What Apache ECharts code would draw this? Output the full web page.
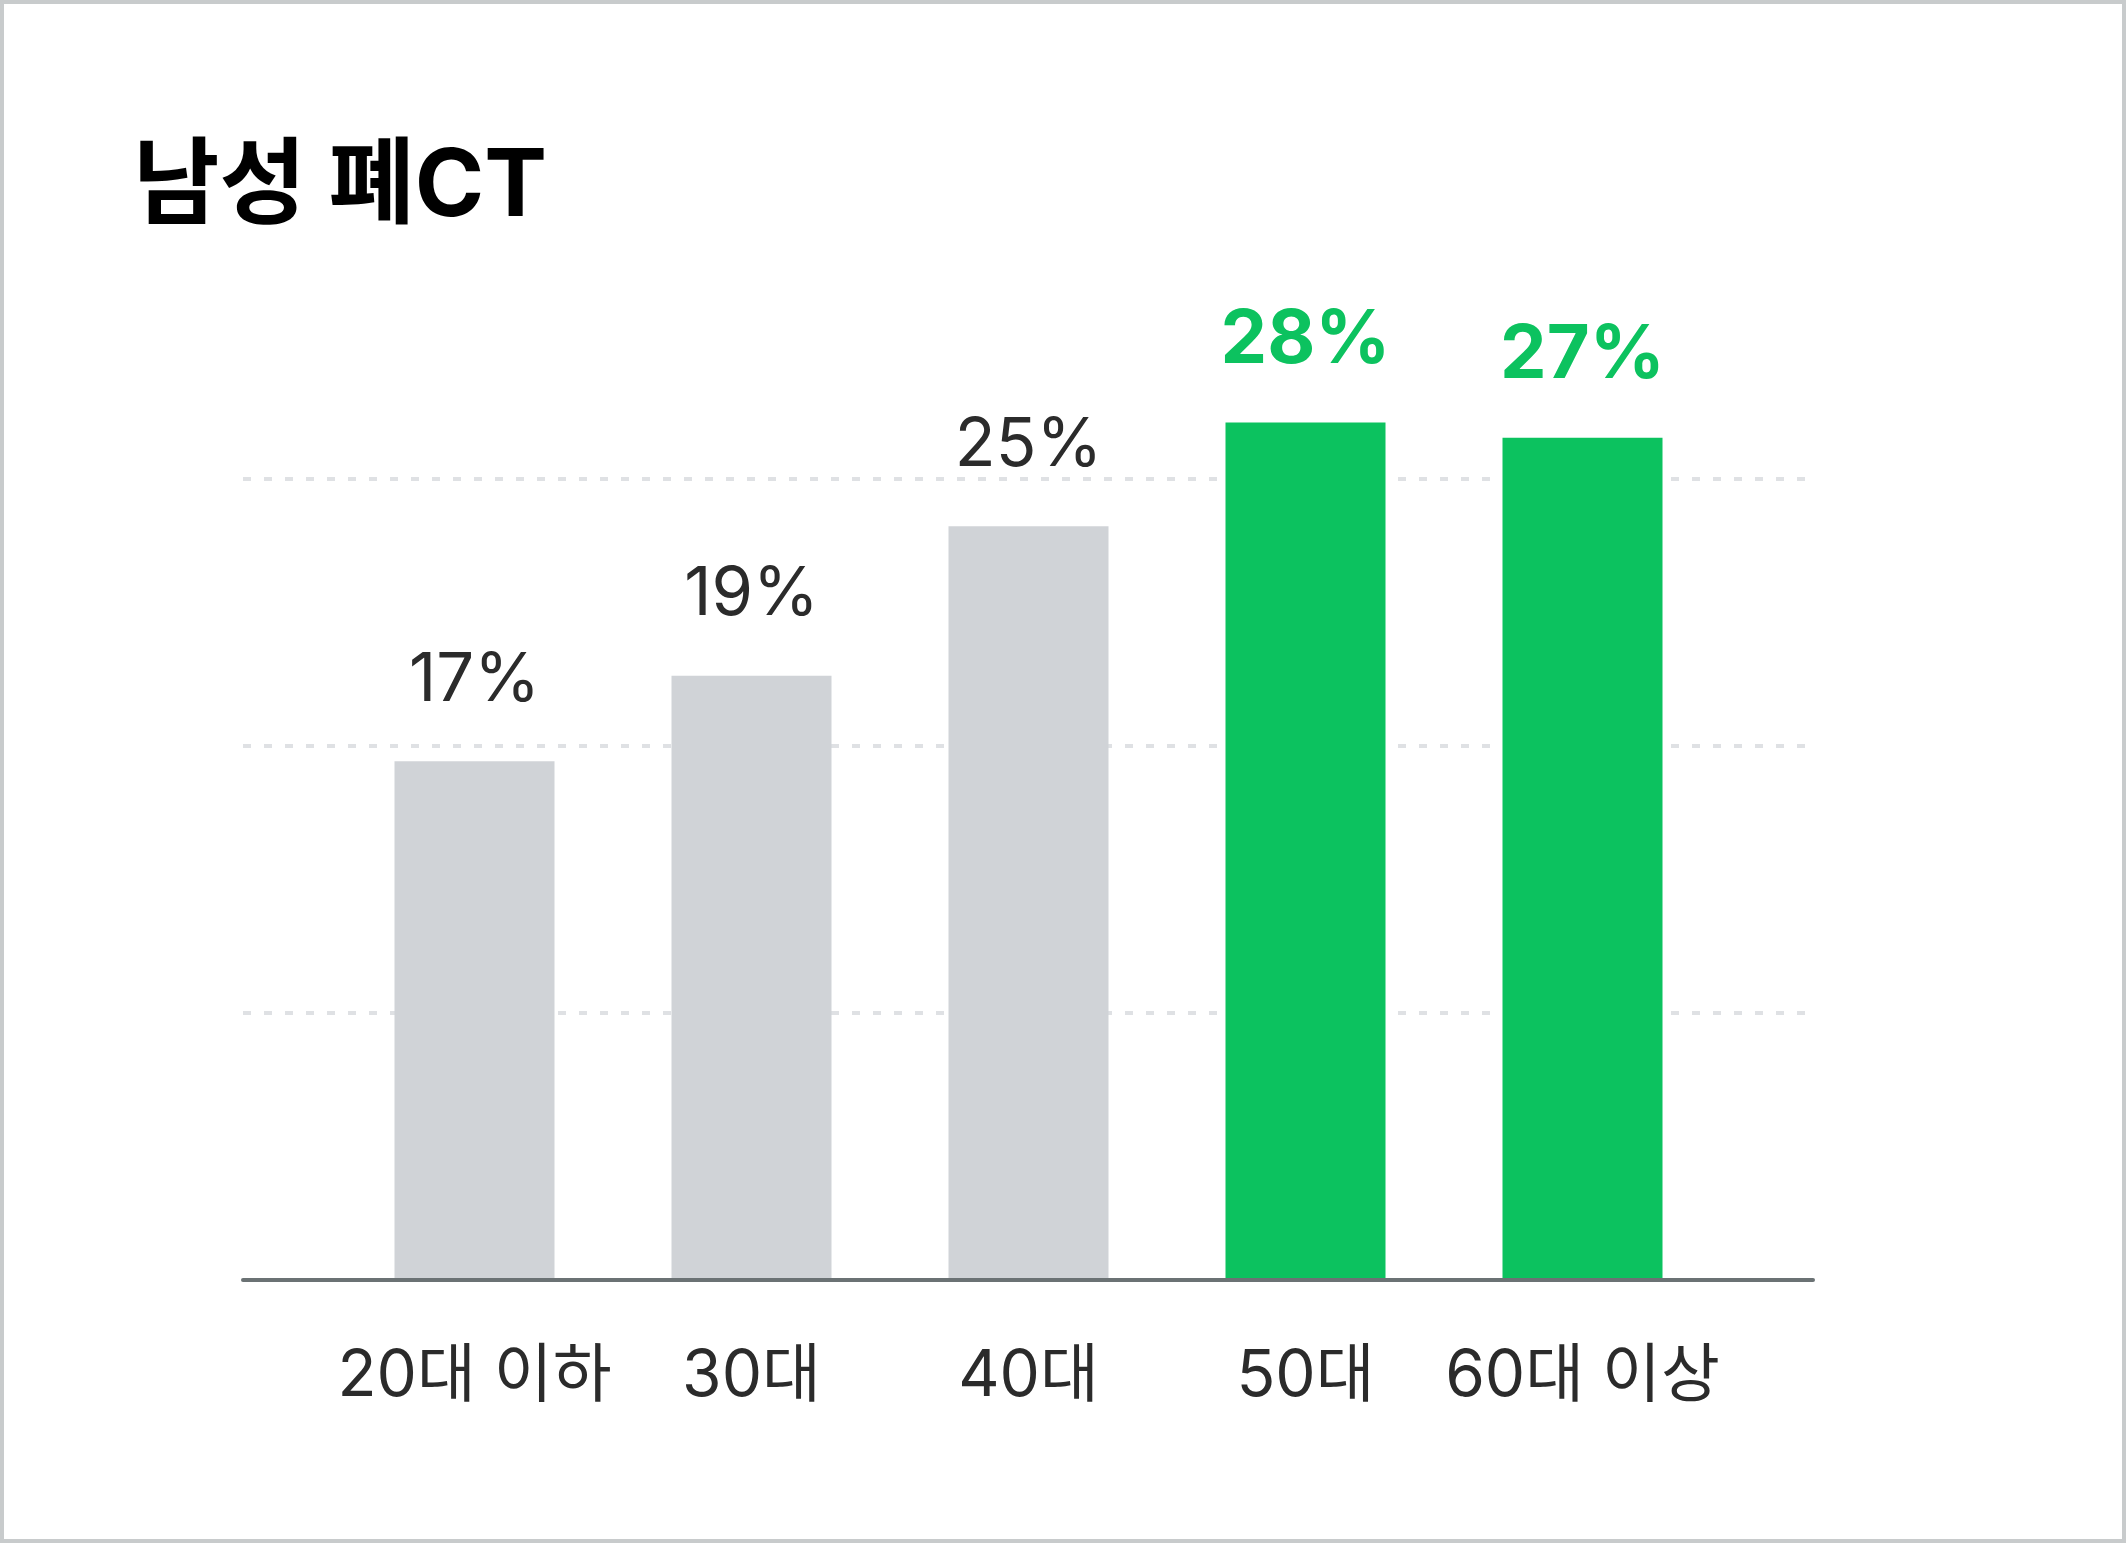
<!DOCTYPE html>
<html>
<head>
<meta charset="utf-8">
<script src="https://cdn.jsdelivr.net/npm/echarts@6/dist/echarts.min.js"></script>
<style>
  html, body { margin: 0; padding: 0; background: #ffffff; }
  #chart { width: 2126px; height: 1543px; }
</style>
</head>
<body>
<div id="chart"></div>
<script>
// ---- data ----
const titleText = '남성 폐CT';
const categories = ['20대 이하', '30대', '40대', '50대', '60대 이상'];
const values = [17.0, 19.8, 24.7, 28.1, 27.6];
const valueLabels = ['17%', '19%', '25%', '28%', '27%'];
const highlighted = ['50대', '60대 이상'];
const yMax = 35;
const yInterval = 8.75;

// ---- styles ----
const FONT = 'Inter, "Noto Sans CJK KR", sans-serif';
const GRAY = '#d0d3d7';
const GREEN = '#0cc25f';
const TEXT = '#2b2b2b';

const chart = echarts.init(document.getElementById('chart'), null, { renderer: 'canvas' });

const barData = values.map((v, i) => {
  const hi = highlighted.indexOf(categories[i]) >= 0;
  return {
    value: v,
    itemStyle: { color: hi ? GREEN : GRAY },
    label: hi
      ? { color: GREEN, fontSize: 74, fontWeight: 700, distance: 45 }
      : { color: TEXT, fontSize: 67, fontWeight: 400, distance: 47 }
  };
});

const option = {
  backgroundColor: '#ffffff',
  animation: false,
  title: {
    text: titleText,
    left: 128,
    top: 136,
    textStyle: { fontFamily: FONT, fontSize: 94, fontWeight: 700, color: '#000000' }
  },
  graphic: [{
    type: 'rect',
    shape: { x: 2, y: 2, width: 2122, height: 1539 },
    style: { fill: 'none', stroke: '#c8cbcc', lineWidth: 4 },
    silent: true,
    z: 100
  }],
  grid: [
    { left: 243, right: 313, top: 212, bottom: 263 },
    { left: 336, right: 405, top: 212, bottom: 263 }
  ],
  xAxis: [
    {
      type: 'value', gridIndex: 0, min: 0, max: 1,
      axisLine: { show: true, lineStyle: { color: '#6b7274', width: 4 } },
      axisTick: { show: false }, axisLabel: { show: false }, splitLine: { show: false },
      z: 5
    },
    {
      type: 'category', gridIndex: 1, data: categories,
      axisLine: { show: false }, axisTick: { show: false },
      axisLabel: { fontFamily: FONT, fontSize: 64, color: TEXT, margin: 65, interval: 0 }
    }
  ],
  yAxis: [
    {
      type: 'value', gridIndex: 0, min: 0, max: yMax, interval: yInterval,
      axisLine: { show: false }, axisTick: { show: false }, axisLabel: { show: false },
      splitLine: {
        show: true, showMinLine: false, showMaxLine: false,
        lineStyle: { color: '#dfe1e4', width: 4, type: [8, 13] }
      }
    },
    {
      type: 'value', gridIndex: 1, min: 0, max: yMax, interval: yInterval,
      show: false, splitLine: { show: false }
    }
  ],
  series: [{
    type: 'bar',
    xAxisIndex: 1,
    yAxisIndex: 1,
    barWidth: 160,
    data: barData,
    z: 3,
    label: {
      show: true,
      position: 'top',
      fontFamily: FONT,
      formatter: (p) => valueLabels[p.dataIndex]
    }
  }]
};

chart.setOption(option);
</script>
</body>
</html>
